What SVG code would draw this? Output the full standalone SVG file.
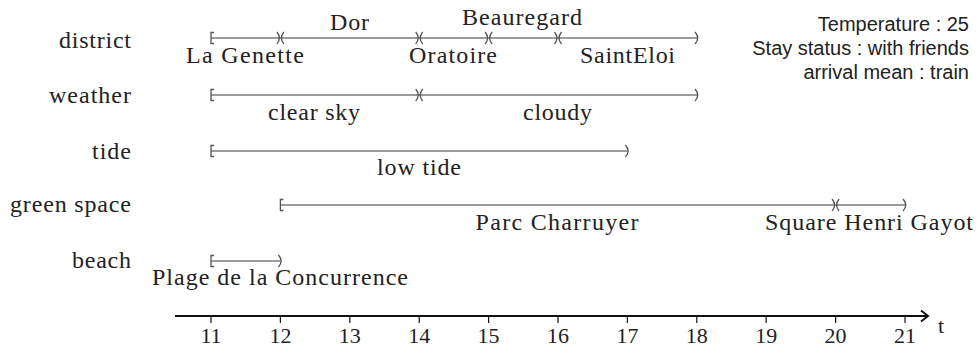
<svg xmlns="http://www.w3.org/2000/svg" width="979" height="354" viewBox="0 0 979 354">
<style>
.lab{font-family:"Liberation Serif","Times New Roman",serif;font-size:24px;fill:#222}
.row{text-anchor:end}
.c{text-anchor:middle}
.info{font-family:"Liberation Sans",Arial,sans-serif;font-size:20px;fill:#222;text-anchor:end}
.bar{stroke:#7a7a7a;stroke-width:1.6;fill:none}
.mk{stroke:#555;stroke-width:1.3;fill:none}
.axis{stroke:#111;stroke-width:2;fill:none}
.tick{stroke:#111;stroke-width:1.2}
.num{font-family:"Liberation Serif","Times New Roman",serif;font-size:22px;fill:#222;text-anchor:middle}
</style>
<defs>
<path id="st" d="M3,-5.5 H0 V5.5 H3"/>
<path id="md" d="M-3.5,-6 Q1.5,0 -3.5,6 M3.5,-6 Q-1.5,0 3.5,6"/>
<path id="en" d="M-2,-6 Q3.5,0 -2,6"/>
</defs>
<g id="info">
<text class="info" x="969" y="31">Temperature : 25</text>
<text class="info" x="969" y="55">Stay status : with friends</text>
<text class="info" x="969" y="79">arrival mean : train</text>
</g>
<g id="district">
<text class="lab row" x="131" y="48" textLength="72" lengthAdjust="spacing">district</text>
<line class="bar" x1="211" y1="38" x2="697" y2="38"/>
<use href="#st" class="mk" x="211" y="38"/>
<use href="#md" class="mk" x="280.4" y="38"/>
<use href="#md" class="mk" x="419.2" y="38"/>
<use href="#md" class="mk" x="488.6" y="38"/>
<use href="#md" class="mk" x="558" y="38"/>
<use href="#en" class="mk" x="697" y="38"/>
<text class="lab c" x="245" y="63" textLength="118" lengthAdjust="spacing">La Genette</text>
<text class="lab c" x="349.5" y="30" textLength="39" lengthAdjust="spacing">Dor</text>
<text class="lab c" x="453" y="63" textLength="88" lengthAdjust="spacing">Oratoire</text>
<text class="lab c" x="522" y="25" textLength="120" lengthAdjust="spacing">Beauregard</text>
<text class="lab c" x="627.5" y="63" textLength="95" lengthAdjust="spacing">SaintEloi</text>
</g>
<g id="weather">
<text class="lab row" x="131" y="103" textLength="82" lengthAdjust="spacing">weather</text>
<line class="bar" x1="211" y1="95" x2="697" y2="95"/>
<use href="#st" class="mk" x="211" y="95"/>
<use href="#md" class="mk" x="419.2" y="95"/>
<use href="#en" class="mk" x="697" y="95"/>
<text class="lab c" x="314" y="120" textLength="92" lengthAdjust="spacing">clear sky</text>
<text class="lab c" x="557.5" y="120" textLength="69" lengthAdjust="spacing">cloudy</text>
</g>
<g id="tide">
<text class="lab row" x="131" y="159" textLength="39" lengthAdjust="spacing">tide</text>
<line class="bar" x1="211" y1="151" x2="627.4" y2="151"/>
<use href="#st" class="mk" x="211" y="151"/>
<use href="#en" class="mk" x="627.4" y="151"/>
<text class="lab c" x="419" y="175" textLength="84" lengthAdjust="spacing">low tide</text>
</g>
<g id="green-space">
<text class="lab row" x="131" y="212" textLength="121" lengthAdjust="spacing">green space</text>
<line class="bar" x1="280.4" y1="205" x2="905" y2="205"/>
<use href="#st" class="mk" x="280.4" y="205"/>
<use href="#md" class="mk" x="835.6" y="205"/>
<use href="#en" class="mk" x="905" y="205"/>
<text class="lab c" x="557" y="230" textLength="163" lengthAdjust="spacing">Parc Charruyer</text>
<text class="lab c" x="869" y="230" textLength="208" lengthAdjust="spacing">Square Henri Gayot</text>
</g>
<g id="beach">
<text class="lab row" x="131" y="268" textLength="59" lengthAdjust="spacing">beach</text>
<line class="bar" x1="211" y1="261" x2="280.4" y2="261"/>
<use href="#st" class="mk" x="211" y="261"/>
<use href="#en" class="mk" x="280.4" y="261"/>
<text class="lab c" x="280" y="285" textLength="256" lengthAdjust="spacing">Plage de la Concurrence</text>
</g>
<g id="connectors">
<line class="axis" x1="175" y1="316" x2="928" y2="316"/>
<path class="axis" d="M921,310.5 L928,316 L921,321.5" stroke-width="1.6"/>
<g class="tick">
<line x1="211" y1="316" x2="211" y2="323"/>
<line x1="280.4" y1="316" x2="280.4" y2="323"/>
<line x1="349.8" y1="316" x2="349.8" y2="323"/>
<line x1="419.2" y1="316" x2="419.2" y2="323"/>
<line x1="488.6" y1="316" x2="488.6" y2="323"/>
<line x1="558" y1="316" x2="558" y2="323"/>
<line x1="627.4" y1="316" x2="627.4" y2="323"/>
<line x1="696.8" y1="316" x2="696.8" y2="323"/>
<line x1="766.2" y1="316" x2="766.2" y2="323"/>
<line x1="835.6" y1="316" x2="835.6" y2="323"/>
<line x1="905" y1="316" x2="905" y2="323"/>
</g>
</g>
<g id="axis-labels">
<text class="num" x="211" y="343">11</text>
<text class="num" x="280.4" y="343">12</text>
<text class="num" x="349.8" y="343">13</text>
<text class="num" x="419.2" y="343">14</text>
<text class="num" x="488.6" y="343">15</text>
<text class="num" x="558" y="343">16</text>
<text class="num" x="627.4" y="343">17</text>
<text class="num" x="696.8" y="343">18</text>
<text class="num" x="766.2" y="343">19</text>
<text class="num" x="835.6" y="343">20</text>
<text class="num" x="905" y="343">21</text>
<text class="num" x="941" y="333">t</text>
</g>
</svg>
